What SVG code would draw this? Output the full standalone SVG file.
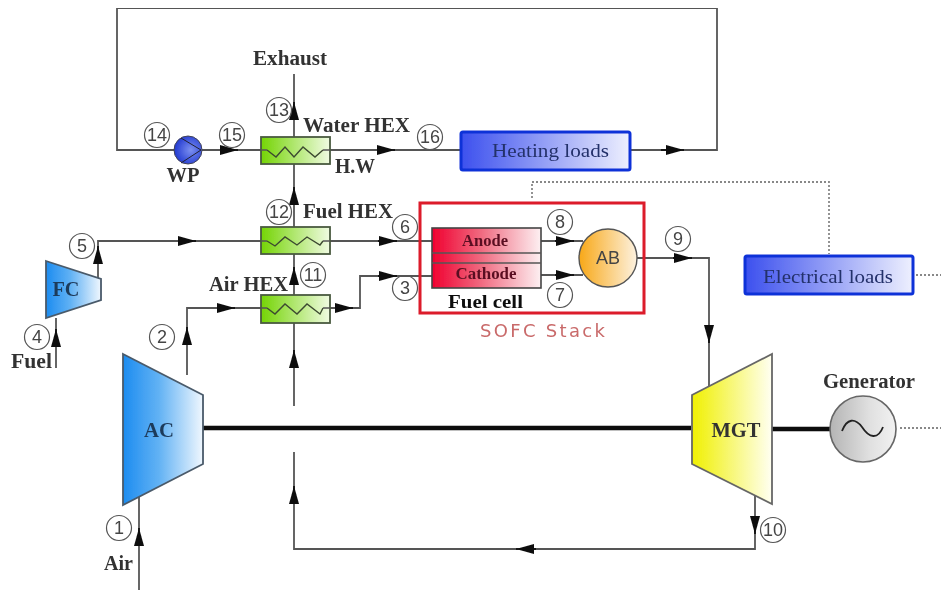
<svg xmlns="http://www.w3.org/2000/svg" width="941" height="590" viewBox="0 0 941 590">
<defs>
<linearGradient id="gBlue"><stop offset="0" stop-color="#1c8cf0"/><stop offset="0.45" stop-color="#62b2f4"/><stop offset="1" stop-color="#f0f7fe"/></linearGradient>
<linearGradient id="gGreen"><stop offset="0" stop-color="#74d404"/><stop offset="1" stop-color="#f0fbe2"/></linearGradient>
<linearGradient id="gRed"><stop offset="0" stop-color="#f00030"/><stop offset="0.45" stop-color="#f06a80"/><stop offset="1" stop-color="#fdf0f2"/></linearGradient>
<linearGradient id="gOrange"><stop offset="0" stop-color="#f8a818"/><stop offset="1" stop-color="#fdf2e0"/></linearGradient>
<linearGradient id="gYellow"><stop offset="0" stop-color="#f0f000"/><stop offset="1" stop-color="#fffff2"/></linearGradient>
<linearGradient id="gLoad"><stop offset="0" stop-color="#3c50ee"/><stop offset="1" stop-color="#eef0fe"/></linearGradient>
<linearGradient id="gGen"><stop offset="0" stop-color="#b4b4b4"/><stop offset="0.6" stop-color="#e0e0e0"/><stop offset="1" stop-color="#f2f2f2"/></linearGradient>
<radialGradient id="gPump" cx="0.6" cy="0.5" r="0.6"><stop offset="0" stop-color="#7c90f0"/><stop offset="1" stop-color="#2038d0"/></radialGradient>
<marker id="ah" markerUnits="userSpaceOnUse" markerWidth="20" markerHeight="14" refX="18" refY="7" orient="auto"><path d="M0,2 L18,7 L0,12 Z" fill="#111"/></marker>
<filter id="soft" x="0" y="0" width="100%" height="100%"><feGaussianBlur stdDeviation="0.5"/></filter>
</defs>
<style>
.c{fill:none;stroke:#555;stroke-width:1.8}
.a{fill:none;stroke:#111;stroke-width:1.8;marker-end:url(#ah)}
.s{fill:none;stroke:#111;stroke-width:4.5}
.d{fill:none;stroke:#888;stroke-width:1.8;stroke-dasharray:2 2}
.eq{stroke:#555;stroke-width:1.6}
.hex{fill:url(#gGreen);stroke:#4a5a40;stroke-width:1.8}
.zz{fill:none;stroke:#3c4a30;stroke-width:1.4}
.n circle{fill:none;stroke:#555;stroke-width:1.2}
.n text{font:18px "Liberation Sans",Arial,sans-serif;fill:#444;text-anchor:middle}
text{font-family:"Liberation Serif","Times New Roman",serif}
.b{font-weight:bold;font-size:20px;fill:#333}
.bd{font-weight:bold;font-size:20px;fill:#1f3a5a}
.l{font-size:19px;fill:#24306a}
</style>
<rect width="941" height="590" fill="#fff"/>
<g filter="url(#soft)">
<g id="connectors">
<path class="c" d="M175,150H117V8H717V150H630"/>
<path class="c" d="M202,150H461"/>
<path class="c" d="M294,74V137M294,164V227M294,254V295M294,323V406"/>
<path class="c" d="M294,452V549H755V496"/>
<path class="c" d="M56,368V318M98,279V241H432"/>
<path class="c" d="M187,375V308H261M330,308H360V276H432"/>
<path class="c" d="M139,590V497"/>
<path class="c" d="M541,241H583M541,275H583M637,258H709V386"/>
<path class="s" d="M203,428H691M772,429H830"/>
<path class="d" d="M532,198V182H829V254M916,275H941M900,428H941"/>
<line class="a" x1="220" y1="150" x2="238" y2="150"/>
<line class="a" x1="377" y1="150" x2="395" y2="150"/>
<line class="a" x1="661" y1="150" x2="684" y2="150"/>
<line class="a" x1="294" y1="119" x2="294" y2="102"/>
<line class="a" x1="294" y1="205" x2="294" y2="187"/>
<line class="a" x1="294" y1="284" x2="294" y2="267"/>
<line class="a" x1="294" y1="368" x2="294" y2="350"/>
<line class="a" x1="294" y1="504" x2="294" y2="486"/>
<line class="a" x1="98" y1="264" x2="98" y2="246"/>
<line class="a" x1="178" y1="241" x2="196" y2="241"/>
<line class="a" x1="378" y1="241" x2="397" y2="241"/>
<line class="a" x1="217" y1="308" x2="235" y2="308"/>
<line class="a" x1="335" y1="308" x2="353" y2="308"/>
<line class="a" x1="378" y1="276" x2="397" y2="276"/>
<line class="a" x1="187" y1="345" x2="187" y2="327"/>
<line class="a" x1="56" y1="347" x2="56" y2="329"/>
<line class="a" x1="139" y1="546" x2="139" y2="528"/>
<line class="a" x1="555" y1="241" x2="574" y2="241"/>
<line class="a" x1="555" y1="275" x2="574" y2="275"/>
<line class="a" x1="673" y1="258" x2="692" y2="258"/>
<line class="a" x1="709" y1="325" x2="709" y2="343"/>
<line class="a" x1="755" y1="516" x2="755" y2="534"/>
<line class="a" x1="536" y1="549" x2="516" y2="549"/>
</g>
<g id="ac"><path d="M123,354L203,395V464L123,505Z" fill="url(#gBlue)" stroke="#4a5a6a" stroke-width="1.8"/><text class="bd" x="159" y="437" text-anchor="middle" textLength="30" lengthAdjust="spacingAndGlyphs">AC</text></g>
<g id="fc"><path d="M46,261L101,279V300L46,318Z" fill="url(#gBlue)" stroke="#4a5a6a" stroke-width="1.8"/><text class="bd" x="66" y="296" text-anchor="middle" textLength="27" lengthAdjust="spacingAndGlyphs">FC</text></g>
<g id="mgt"><path d="M692,395L772,354V504L692,464Z" fill="url(#gYellow)" stroke="#666" stroke-width="1.8"/><text class="b" x="736" y="437" text-anchor="middle" textLength="49" lengthAdjust="spacingAndGlyphs">MGT</text></g>
<g id="generator"><circle cx="863" cy="429" r="33" fill="url(#gGen)" stroke="#666" stroke-width="1.6"/><path d="M842,431C847,418 855,418 862,427C869,438 878,440 883,427" fill="none" stroke="#222" stroke-width="1.8"/><text class="b" x="869" y="388" text-anchor="middle" textLength="92" lengthAdjust="spacingAndGlyphs">Generator</text></g>
<g id="pump"><circle cx="188" cy="150" r="14" fill="url(#gPump)" stroke="#445" stroke-width="1"/><path d="M181,138L201,150L181,163" fill="none" stroke="#223" stroke-width="1"/><text class="b" x="183" y="182" text-anchor="middle" textLength="33" lengthAdjust="spacingAndGlyphs">WP</text></g>
<g id="water-hex"><rect class="hex" x="261" y="137" width="69" height="27"/><path class="zz" d="M267,150L276,157L285,147L294,157L303,147L315,157L323,150"/><path class="eq" d="M261,150H267M323,150H330"/><text class="b" x="303" y="132" textLength="107" lengthAdjust="spacingAndGlyphs">Water HEX</text></g>
<g id="fuel-hex"><rect class="hex" x="261" y="227" width="69" height="27"/><path class="zz" d="M267,241L275,246L285,237L297,245L307,237L320,245L323,241"/><path class="eq" d="M261,241H267M323,241H330"/><text class="b" x="303" y="218" textLength="90" lengthAdjust="spacingAndGlyphs">Fuel HEX</text></g>
<g id="air-hex"><rect class="hex" x="261" y="295" width="69" height="28"/><path class="zz" d="M267,308L275,314L285,304L297,314L307,304L320,314L323,308"/><path class="eq" d="M261,308H267M323,308H330"/><text class="b" x="209" y="291" textLength="79" lengthAdjust="spacingAndGlyphs">Air HEX</text></g>
<g id="heating-loads"><rect x="461" y="132" width="169" height="38" rx="2" fill="url(#gLoad)" stroke="#1030d8" stroke-width="3"/><text class="l" x="492" y="157" textLength="117" lengthAdjust="spacingAndGlyphs">Heating loads</text></g>
<g id="electrical-loads"><rect x="745" y="256" width="168" height="38" rx="2" fill="url(#gLoad)" stroke="#1030d8" stroke-width="3"/><text class="l" x="763" y="283" textLength="130" lengthAdjust="spacingAndGlyphs">Electrical loads</text></g>
<g id="sofc-stack"><rect x="420" y="203" width="224" height="110" fill="none" stroke="#dc1c2c" stroke-width="3"/><text x="480" y="337" style="font-family:'DejaVu Sans','Liberation Sans',sans-serif;font-size:18px" fill="#c96a6a" textLength="125">SOFC Stack</text></g>
<g id="fuel-cell"><rect x="432" y="228" width="109" height="60" fill="url(#gRed)" stroke="#444" stroke-width="1.6"/><path class="eq" d="M432,253H541M432,263H541"/><text class="b" x="485" y="246" text-anchor="middle" style="font-size:17px;fill:#5a1020" textLength="46" lengthAdjust="spacingAndGlyphs">Anode</text><text class="b" x="486" y="279" text-anchor="middle" style="font-size:17px;fill:#5a1020" textLength="61" lengthAdjust="spacingAndGlyphs">Cathode</text><text class="b" x="448" y="308" style="font-size:19px;fill:#111" textLength="75" lengthAdjust="spacingAndGlyphs">Fuel cell</text></g>
<g id="ab"><circle cx="608" cy="258" r="29" fill="url(#gOrange)" stroke="#555" stroke-width="1.4"/><text x="608" y="264" text-anchor="middle" style="font-family:'Liberation Sans',Arial,sans-serif;font-size:18px" fill="#444">AB</text></g>
<g id="labels">
<text class="b" x="253" y="65" textLength="74" lengthAdjust="spacingAndGlyphs">Exhaust</text>
<text class="b" x="335" y="173" textLength="40" lengthAdjust="spacingAndGlyphs">H.W</text>
<text class="b" x="11" y="368" textLength="41" lengthAdjust="spacingAndGlyphs">Fuel</text>
<text class="b" x="104" y="570" textLength="29" lengthAdjust="spacingAndGlyphs">Air</text>
</g>
<g id="state-points" class="n">
<g><circle cx="119" cy="528" r="12.5"/><text x="119" y="534">1</text></g>
<g><circle cx="162" cy="337" r="12.5"/><text x="162" y="343">2</text></g>
<g><circle cx="405" cy="288" r="12.5"/><text x="405" y="294">3</text></g>
<g><circle cx="37" cy="337" r="12.5"/><text x="37" y="343">4</text></g>
<g><circle cx="82" cy="246" r="12.5"/><text x="82" y="252">5</text></g>
<g><circle cx="405" cy="227" r="12.5"/><text x="405" y="233">6</text></g>
<g><circle cx="560" cy="295" r="12.5"/><text x="560" y="301">7</text></g>
<g><circle cx="560" cy="222" r="12.5"/><text x="560" y="228">8</text></g>
<g><circle cx="678" cy="239" r="12.5"/><text x="678" y="245">9</text></g>
<g><circle cx="773" cy="530" r="12.5"/><text x="773" y="536">10</text></g>
<g><circle cx="313" cy="275" r="12.5"/><text x="313" y="281">11</text></g>
<g><circle cx="279" cy="212" r="12.5"/><text x="279" y="218">12</text></g>
<g><circle cx="279" cy="110" r="12.5"/><text x="279" y="116">13</text></g>
<g><circle cx="157" cy="135" r="12.5"/><text x="157" y="141">14</text></g>
<g><circle cx="232" cy="135" r="12.5"/><text x="232" y="141">15</text></g>
<g><circle cx="430" cy="137" r="12.5"/><text x="430" y="143">16</text></g>
</g>
</g>
</svg>
